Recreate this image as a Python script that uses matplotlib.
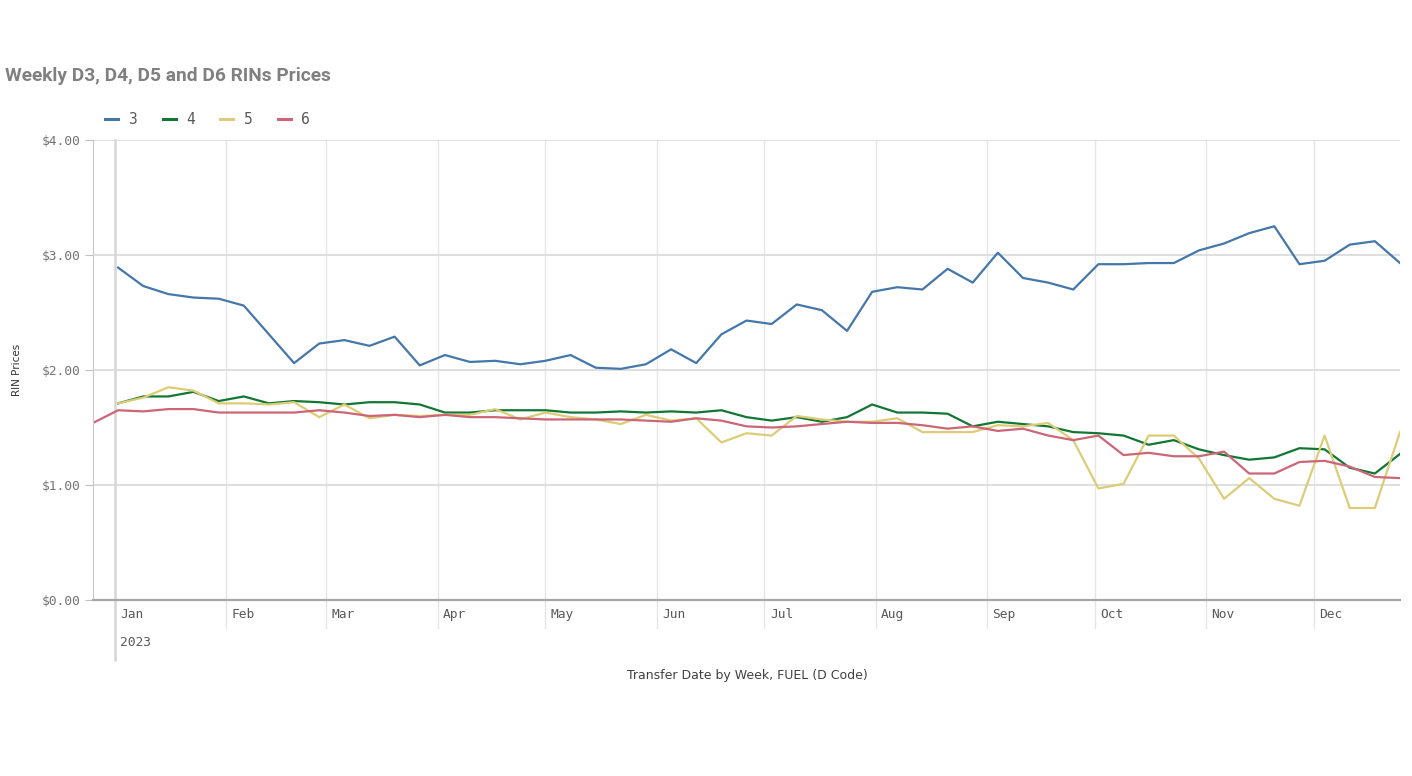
import matplotlib
matplotlib.use('Agg')
import matplotlib.pyplot as plt
import matplotlib.dates as mdates
import matplotlib.transforms as mtransforms
from matplotlib.lines import Line2D
import numpy as np
import pandas as pd

# Weekly transfer dates (week starting Monday)
weeks = pd.date_range('2022-12-26', periods=53, freq='7D')

# RIN prices in $ per series (D code); first week only exists for D6
d3 = [np.nan,
      2.89, 2.73, 2.66, 2.63, 2.62, 2.56, 2.31, 2.06, 2.23, 2.26,
      2.21, 2.29, 2.04, 2.13, 2.07, 2.08, 2.05, 2.08, 2.13, 2.02,
      2.01, 2.05, 2.18, 2.06, 2.31, 2.43, 2.40, 2.57, 2.52, 2.34,
      2.68, 2.72, 2.70, 2.88, 2.76, 3.02, 2.80, 2.76, 2.70, 2.92,
      2.92, 2.93, 2.93, 3.04, 3.10, 3.19, 3.25, 2.92, 2.95, 3.09,
      3.12, 2.93]
d4 = [np.nan,
      1.71, 1.77, 1.77, 1.81, 1.73, 1.77, 1.71, 1.73, 1.72, 1.70,
      1.72, 1.72, 1.70, 1.63, 1.63, 1.65, 1.65, 1.65, 1.63, 1.63,
      1.64, 1.63, 1.64, 1.63, 1.65, 1.59, 1.56, 1.59, 1.55, 1.59,
      1.70, 1.63, 1.63, 1.62, 1.51, 1.55, 1.53, 1.51, 1.46, 1.45,
      1.43, 1.35, 1.39, 1.31, 1.26, 1.22, 1.24, 1.32, 1.31, 1.15,
      1.10, 1.27]
d5 = [np.nan,
      1.71, 1.76, 1.85, 1.82, 1.71, 1.71, 1.70, 1.72, 1.59, 1.70,
      1.58, 1.61, 1.60, 1.61, 1.61, 1.66, 1.57, 1.63, 1.59, 1.57,
      1.53, 1.61, 1.56, 1.58, 1.37, 1.45, 1.43, 1.60, 1.57, 1.55,
      1.55, 1.58, 1.46, 1.46, 1.46, 1.52, 1.51, 1.54, 1.39, 0.97,
      1.01, 1.43, 1.43, 1.23, 0.88, 1.06, 0.88, 0.82, 1.43, 0.80,
      0.80, 1.46]
d6 = [1.54,
      1.65, 1.64, 1.66, 1.66, 1.63, 1.63, 1.63, 1.63, 1.65, 1.63,
      1.60, 1.61, 1.59, 1.61, 1.59, 1.59, 1.58, 1.57, 1.57, 1.57,
      1.57, 1.56, 1.55, 1.58, 1.56, 1.51, 1.50, 1.51, 1.53, 1.55,
      1.54, 1.54, 1.52, 1.49, 1.51, 1.47, 1.49, 1.43, 1.39, 1.43,
      1.26, 1.28, 1.25, 1.25, 1.29, 1.10, 1.10, 1.20, 1.21, 1.16,
      1.07, 1.06]

series = {'3': d3, '4': d4, '5': d5, '6': d6}
colors = {'3': '#4477aa', '4': '#117733', '5': '#ddcc77', '6': '#cc6677'}
months = pd.date_range('2023-01-01', '2023-12-01', freq='MS')

mono = 'DejaVu Sans Mono'
fig = plt.figure(figsize=(14.12, 7.76), dpi=100)
ax = fig.add_axes([93 / 1412, 176 / 776, 1307 / 1412, 460 / 776])

for name, vals in series.items():
    ax.plot(weeks, vals, color=colors[name], lw=1.6, solid_joinstyle='round')

ax.set_xlim(mdates.date2num(pd.Timestamp('2022-12-26')),
            mdates.date2num(pd.Timestamp('2023-12-25')))
ax.set_ylim(0, 4)
ax.set_yticks([0, 1, 2, 3, 4])
ax.set_yticklabels(['$%.2f' % v for v in [0, 1, 2, 3, 4]],
                   family=mono, fontsize=9.3, color='#737373')
ax.tick_params(axis='y', length=6, width=0.8, color='#bfbfbf', pad=3)
ax.set_xticks([])
ax.grid(axis='y', color='#d9d9d9', lw=1.2)
ax.set_axisbelow(True)

for s in ['top', 'right']:
    ax.spines[s].set_visible(False)
ax.spines['left'].set_color('#c8c8c8')
ax.spines['left'].set_linewidth(0.8)
ax.spines['bottom'].set_color('#a6a6a6')
ax.spines['bottom'].set_linewidth(1.6)

# month gridlines and labels
trans = mtransforms.blended_transform_factory(ax.transData, ax.transAxes)
for i, m in enumerate(months):
    mx = mdates.date2num(m)
    if i == 0:
        ax.plot([mx, mx], [-0.13, 1], transform=trans, color='#d6d6d6',
                lw=1.8, clip_on=False, zorder=0)
    else:
        ax.plot([mx, mx], [-0.06, 1], transform=trans, color='#e6e6e6',
                lw=1.0, clip_on=False, zorder=0)
    ax.text(mx + 1.5, -0.031, m.strftime('%b'), transform=trans,
            ha='left', va='center', family=mono, fontsize=9.3, color='#595959')
ax.text(mdates.date2num(months[0]) + 1.5, -0.092, '2023', transform=trans,
        ha='left', va='center', family=mono, fontsize=9.3, color='#595959')

ax.set_ylabel('RIN Prices', fontsize=7.5, color='#333333')
ax.yaxis.set_label_coords(-0.0545, 0.5)
fig.text(747 / 1412, 1 - 676 / 776, 'Transfer Date by Week, FUEL (D Code)',
         ha='center', va='center', fontsize=9, color='#404040')

fig.text(5 / 1412, 1 - 76 / 776, 'Weekly D3, D4, D5 and D6 RINs Prices',
         ha='left', va='center', fontsize=13.8, fontweight='bold',
         color='#808080', family='Roboto')

handles = [Line2D([], [], color=colors[k], lw=2.2) for k in series]
fig.legend(handles, list(series.keys()), loc='center left',
           bbox_to_anchor=(92 / 1412, 1 - 120 / 776), ncol=4, frameon=False,
           handlelength=0.9, handletextpad=0.7, columnspacing=1.75,
           prop={'family': mono, 'size': 10.5}, labelcolor='#595959')

fig.savefig('out.png', dpi=100)
